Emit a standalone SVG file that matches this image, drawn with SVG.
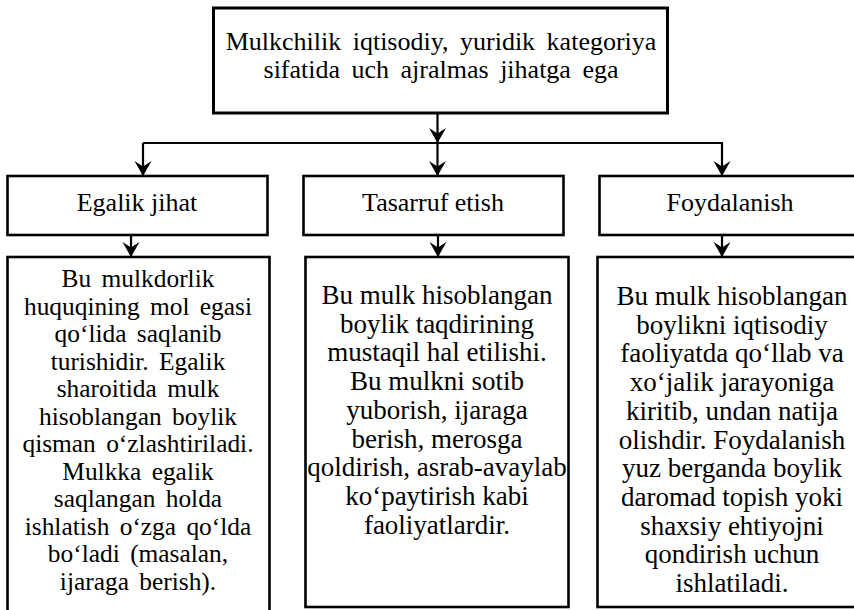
<svg xmlns="http://www.w3.org/2000/svg" width="854" height="610" viewBox="0 0 854 610" font-family="'Liberation Serif', 'Times New Roman', 'DejaVu Serif', serif">
<style>
.box{fill:#fff;stroke:#000;stroke-width:2.6}
.top{stroke-width:3}
.conn{fill:none;stroke:#000;stroke-width:2.2}
text{font-family:"Liberation Serif","Times New Roman","DejaVu Serif",serif;fill:#000;text-anchor:middle}
.t1{font-size:26px;word-spacing:5px}
.h{font-size:26px}
.bl{font-size:25.4px;word-spacing:4px}
.b{font-size:27px}
</style>
<defs>
<marker id="ah" viewBox="-16 -9 17 18" markerWidth="17" markerHeight="18" refX="0" refY="0" orient="auto" markerUnits="userSpaceOnUse">
<path d="M0,0 L-15,-8.5 L-9.5,0 L-15,8.5 Z" fill="#000"/>
</marker>
</defs>
<g id="connectors">
<line class="conn" x1="437.5" y1="113" x2="437.5" y2="143" marker-end="url(#ah)"/>
<line class="conn" x1="143" y1="143" x2="722" y2="143"/>
<line class="conn" x1="143" y1="143" x2="143" y2="176" marker-end="url(#ah)"/>
<line class="conn" x1="437.5" y1="143" x2="437.5" y2="176" marker-end="url(#ah)"/>
<line class="conn" x1="722" y1="142" x2="722" y2="176" marker-end="url(#ah)"/>
<line class="conn" x1="131" y1="235" x2="131" y2="257" marker-end="url(#ah)"/>
<line class="conn" x1="438" y1="235" x2="438" y2="257" marker-end="url(#ah)"/>
<line class="conn" x1="722" y1="235" x2="722" y2="257" marker-end="url(#ah)"/>
</g>
<g id="root">
<rect class="box top" x="213.5" y="8" width="454" height="105"/>
<text class="t1" x="441" y="50">Mulkchilik iqtisodiy, yuridik kategoriya</text>
<text class="t1" x="441" y="78">sifatida uch ajralmas jihatga ega</text>
</g>
<g id="egalik">
<rect class="box" x="7.5" y="176" width="260" height="59"/>
<text class="h" x="137" y="211">Egalik jihat</text>
</g>
<g id="tasarruf">
<rect class="box" x="303.5" y="176" width="260" height="59"/>
<text class="h" x="433" y="211">Tasarruf etish</text>
</g>
<g id="foydalanish">
<rect class="box" x="599.5" y="176" width="264" height="59"/>
<text class="h" x="730" y="211">Foydalanish</text>
</g>
<g id="egalik-desc">
<rect class="box" x="7.5" y="257" width="262" height="370"/>
<text class="bl" x="138" y="287">Bu mulkdorlik</text>
<text class="bl" x="138" y="314.5">huquqining mol egasi</text>
<text class="bl" x="138" y="342">qo‘lida saqlanib</text>
<text class="bl" x="138" y="369.5">turishidir. Egalik</text>
<text class="bl" x="138" y="397">sharoitida mulk</text>
<text class="bl" x="138" y="424.5">hisoblangan boylik</text>
<text class="bl" x="138" y="452">qisman o‘zlashtiriladi.</text>
<text class="bl" x="138" y="479.5">Mulkka egalik</text>
<text class="bl" x="138" y="507">saqlangan holda</text>
<text class="bl" x="138" y="534.5">ishlatish o‘zga qo‘lda</text>
<text class="bl" x="138" y="562">bo‘ladi (masalan,</text>
<text class="bl" x="138" y="589.5">ijaraga berish).</text>
</g>
<g id="tasarruf-desc">
<rect class="box" x="305.5" y="257" width="263" height="350"/>
<text class="b" x="437" y="304">Bu mulk hisoblangan</text>
<text class="b" x="437" y="332.7">boylik taqdirining</text>
<text class="b" x="437" y="361.4">mustaqil hal etilishi.</text>
<text class="b" x="437" y="390.1">Bu mulkni sotib</text>
<text class="b" x="437" y="418.8">yuborish, ijaraga</text>
<text class="b" x="437" y="447.5">berish, merosga</text>
<text class="b" x="437" y="476.2">qoldirish, asrab-avaylab</text>
<text class="b" x="437" y="504.9">ko‘paytirish kabi</text>
<text class="b" x="437" y="533.6">faoliyatlardir.</text>
</g>
<g id="foydalanish-desc">
<rect class="box" x="597.5" y="257" width="270" height="350"/>
<text class="b" x="732" y="305">Bu mulk hisoblangan</text>
<text class="b" x="732" y="333.7">boylikni iqtisodiy</text>
<text class="b" x="732" y="362.4">faoliyatda qo‘llab va</text>
<text class="b" x="732" y="391.1">xo‘jalik jarayoniga</text>
<text class="b" x="732" y="419.8">kiritib, undan natija</text>
<text class="b" x="732" y="448.5">olishdir. Foydalanish</text>
<text class="b" x="732" y="477.2">yuz berganda boylik</text>
<text class="b" x="732" y="505.9">daromad topish yoki</text>
<text class="b" x="732" y="534.6">shaxsiy ehtiyojni</text>
<text class="b" x="732" y="563.3">qondirish uchun</text>
<text class="b" x="732" y="592">ishlatiladi.</text>
</g>
</svg>
